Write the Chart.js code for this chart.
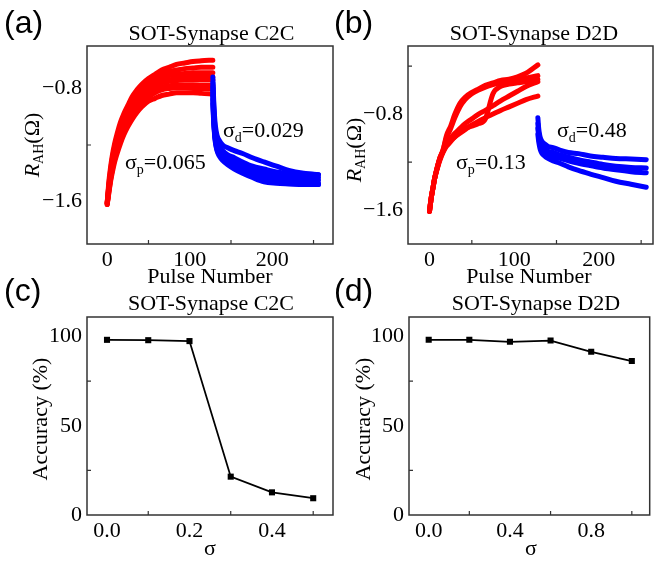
<!DOCTYPE html>
<html>
<head>
<meta charset="utf-8">
<script src="https://cdn.jsdelivr.net/npm/chart.js@4.4.1/dist/chart.umd.min.js"></script>
<style>
  html, body { margin: 0; padding: 0; background: #fff; }
  #wrap { position: relative; width: 654px; height: 561px; }
  #wrap canvas { position: absolute; left: 0; top: 0; }
</style>
</head>
<body>
<div id="wrap">
  <canvas id="ca" width="654" height="561"></canvas>
  <canvas id="cb" width="654" height="561"></canvas>
  <canvas id="cc" width="654" height="561"></canvas>
  <canvas id="cd" width="654" height="561"></canvas>
</div>
<script>
// ---------------- data ----------------
const potPulses = [0,2,4,6,9,12,16,20,25,30,36,42,50,58,66,75,84,94,104,114,128];
const depPulses = [128,129,130,131,133,136,140,146,154,164,176,190,205,220,238,256];

// (a) SOT-Synapse C2C, potentiation cycles
const c2cP1 = [-1.61,-1.46,-1.36,-1.28,-1.19,-1.12,-1.04,-0.98,-0.92,-0.86,-0.81,-0.77,-0.73,-0.70,-0.67,-0.65,-0.63,-0.62,-0.61,-0.605,-0.60];
const c2cP2 = [-1.61,-1.48,-1.38,-1.30,-1.21,-1.14,-1.06,-1.00,-0.94,-0.88,-0.83,-0.79,-0.75,-0.72,-0.70,-0.68,-0.67,-0.66,-0.655,-0.65,-0.65];
const c2cP3 = [-1.60,-1.49,-1.40,-1.32,-1.23,-1.16,-1.09,-1.03,-0.96,-0.91,-0.86,-0.82,-0.78,-0.75,-0.73,-0.71,-0.70,-0.695,-0.69,-0.69,-0.69];
const c2cP4 = [-1.62,-1.50,-1.41,-1.34,-1.25,-1.18,-1.10,-1.04,-0.98,-0.93,-0.88,-0.84,-0.80,-0.77,-0.75,-0.74,-0.73,-0.725,-0.72,-0.72,-0.72];
const c2cP5 = [-1.61,-1.51,-1.42,-1.35,-1.27,-1.20,-1.12,-1.06,-0.99,-0.94,-0.89,-0.85,-0.81,-0.78,-0.76,-0.75,-0.745,-0.74,-0.74,-0.74,-0.74];
const c2cP6 = [-1.62,-1.52,-1.44,-1.37,-1.29,-1.22,-1.15,-1.09,-1.03,-0.97,-0.92,-0.88,-0.84,-0.81,-0.79,-0.78,-0.775,-0.775,-0.775,-0.78,-0.78];
const c2cP7 = [-1.61,-1.53,-1.45,-1.38,-1.30,-1.24,-1.16,-1.10,-1.04,-0.99,-0.94,-0.90,-0.86,-0.83,-0.81,-0.80,-0.795,-0.795,-0.80,-0.80,-0.80];
const c2cP8 = [-1.62,-1.54,-1.46,-1.40,-1.32,-1.26,-1.19,-1.13,-1.07,-1.02,-0.97,-0.93,-0.89,-0.87,-0.85,-0.84,-0.83,-0.83,-0.83,-0.835,-0.84];
// (a) depression cycles
const c2cD1 = [-0.72,-0.88,-0.99,-1.06,-1.13,-1.17,-1.20,-1.22,-1.24,-1.26,-1.29,-1.32,-1.35,-1.38,-1.40,-1.41];
const c2cD2 = [-0.76,-0.92,-1.03,-1.10,-1.17,-1.21,-1.24,-1.27,-1.29,-1.32,-1.35,-1.37,-1.39,-1.40,-1.405,-1.41];
const c2cD3 = [-0.79,-0.95,-1.06,-1.13,-1.19,-1.23,-1.26,-1.29,-1.31,-1.34,-1.37,-1.39,-1.41,-1.42,-1.43,-1.43];
const c2cD4 = [-0.82,-0.97,-1.08,-1.15,-1.21,-1.25,-1.28,-1.31,-1.33,-1.36,-1.39,-1.41,-1.43,-1.44,-1.445,-1.45];
const c2cD5 = [-0.85,-1.00,-1.10,-1.16,-1.22,-1.26,-1.29,-1.32,-1.35,-1.38,-1.41,-1.43,-1.45,-1.46,-1.465,-1.47];
const c2cD6 = [-0.88,-1.02,-1.11,-1.17,-1.23,-1.27,-1.30,-1.33,-1.36,-1.39,-1.42,-1.45,-1.46,-1.47,-1.475,-1.48];
const c2cD7 = [-0.91,-1.04,-1.12,-1.18,-1.24,-1.28,-1.31,-1.34,-1.37,-1.40,-1.43,-1.46,-1.47,-1.475,-1.48,-1.48];

// (b) SOT-Synapse D2D, potentiation devices
const d2dP1 = [-1.61,-1.50,-1.42,-1.34,-1.25,-1.17,-1.10,-0.98,-0.90,-0.80,-0.71,-0.66,-0.62,-0.59,-0.56,-0.54,-0.52,-0.51,-0.49,-0.46,-0.39];
const d2dP2 = [-1.61,-1.50,-1.42,-1.34,-1.25,-1.17,-1.10,-1.00,-0.92,-0.83,-0.74,-0.68,-0.63,-0.60,-0.575,-0.555,-0.54,-0.525,-0.51,-0.50,-0.48];
const d2dP3 = [-1.61,-1.50,-1.42,-1.34,-1.25,-1.18,-1.11,-1.06,-1.02,-0.99,-0.95,-0.92,-0.90,-0.88,-0.84,-0.63,-0.57,-0.55,-0.54,-0.53,-0.51];
const d2dP4 = [-1.61,-1.50,-1.42,-1.34,-1.25,-1.18,-1.11,-1.04,-1.00,-0.96,-0.92,-0.88,-0.84,-0.80,-0.77,-0.73,-0.69,-0.65,-0.61,-0.57,-0.53];
const d2dP5 = [-1.61,-1.50,-1.42,-1.34,-1.26,-1.19,-1.12,-1.07,-1.03,-0.99,-0.96,-0.93,-0.89,-0.86,-0.83,-0.80,-0.77,-0.74,-0.71,-0.68,-0.65];
// (b) depression devices
const d2dD1 = [-0.83,-0.92,-0.97,-1.00,-1.03,-1.05,-1.07,-1.08,-1.10,-1.12,-1.13,-1.15,-1.16,-1.17,-1.175,-1.18];
const d2dD2 = [-0.88,-0.96,-1.01,-1.04,-1.07,-1.09,-1.11,-1.12,-1.14,-1.16,-1.18,-1.20,-1.22,-1.235,-1.245,-1.25];
const d2dD3 = [-0.92,-0.99,-1.04,-1.07,-1.10,-1.12,-1.14,-1.155,-1.17,-1.19,-1.21,-1.23,-1.25,-1.265,-1.28,-1.29];
const d2dD4 = [-0.97,-1.03,-1.07,-1.10,-1.13,-1.15,-1.17,-1.19,-1.21,-1.24,-1.27,-1.30,-1.33,-1.36,-1.385,-1.41];

// (c), (d) accuracy vs sigma
const sigmaC2C = [0.0, 0.1, 0.2, 0.3, 0.4, 0.5];
const accC2C   = [98.2, 98.0, 97.5, 21.5, 12.7, 9.4];
const sigmaD2D = [0.0, 0.2, 0.4, 0.6, 0.8, 1.0];
const accD2D   = [98.2, 98.2, 97.1, 97.8, 91.5, 86.3];

// ticks (empty label = minor tick)
const pulseTicksA  = [0, 50, 100, 150, 200, 250];
const pulseLabelsA = ['0', '', '100', '', '200', ''];
const rTicksA  = [-1.6, -1.2, -0.8];
const rLabelsA = ['\u22121.6', '', '\u22120.8'];
const pulseTicksB  = [0, 50, 100, 150, 200, 250];
const pulseLabelsB = ['0', '', '100', '', '200', ''];
const rTicksB  = [-1.6, -1.2, -0.8, -0.4];
const rLabelsB = ['\u22121.6', '', '\u22120.8', ''];
const sigTicksC  = [0.0, 0.1, 0.2, 0.3, 0.4, 0.5];
const sigLabelsC = ['0.0', '', '0.2', '', '0.4', ''];
const sigTicksD  = [0.0, 0.2, 0.4, 0.6, 0.8, 1.0];
const sigLabelsD = ['0.0', '', '0.4', '', '0.8', ''];
const accTicks  = [0, 25, 50, 75, 100];
const accLabels = ['0', '', '50', '', '100'];

// ---------------- helpers ----------------
const SERIF = "'Liberation Serif', 'Times New Roman', serif";
const SANS = "'Liberation Sans', Arial, sans-serif";
const RED = 'rgb(255,0,0)';
const BLUE = 'rgb(0,0,255)';

function xy(xs, ys) { return xs.map((x, i) => ({ x: x, y: ys[i] })); }

function curveSet(xs, list, color) {
  return list.map(ys => ({
    data: xy(xs, ys), showLine: true, borderColor: color, backgroundColor: color,
    borderWidth: 5, pointRadius: 0, cubicInterpolationMode: 'monotone',
    borderCapStyle: 'round', borderJoinStyle: 'round'
  }));
}

function drawRich(ctx, segs, x, y, align, rotate) {
  ctx.save();
  ctx.translate(x, y);
  if (rotate) ctx.rotate(-Math.PI / 2);
  let w = 0;
  segs.forEach(s => { ctx.font = s.font; s.w = ctx.measureText(s.t).width; w += s.w; });
  let cx = align === 'center' ? -w / 2 : 0;
  ctx.fillStyle = '#000';
  ctx.textBaseline = 'alphabetic';
  ctx.textAlign = 'left';
  segs.forEach(s => { ctx.font = s.font; ctx.fillText(s.t, cx, s.dy || 0); cx += s.w; });
  ctx.restore();
}

const decorPlugin = {
  id: 'decor',
  afterDraw(chart, args, o) {
    const ctx = chart.ctx, a = chart.chartArea;
    const xs = chart.scales.x, ys = chart.scales.y;
    ctx.save();
    ctx.strokeStyle = '#333';
    ctx.lineWidth = 1.5;
    ctx.strokeRect(a.left, a.top, a.right - a.left, a.bottom - a.top);
    ctx.lineWidth = 1.2;
    ctx.beginPath();
    o.xTicks.forEach((v, i) => {
      if (o.xLabels[i] === '') { const p = xs.getPixelForValue(v); ctx.moveTo(p, a.bottom); ctx.lineTo(p, a.bottom - 4); }
    });
    o.yTicks.forEach((v, i) => {
      if (o.yLabels[i] === '') { const p = ys.getPixelForValue(v); ctx.moveTo(a.left, p); ctx.lineTo(a.left + 4, p); }
    });
    ctx.stroke();
    ctx.restore();
    o.texts.forEach(t => drawRich(ctx, t.segs, t.x, t.y, t.align, t.rotate));
  }
};

function makeChart(id, datasets, sc, pad, decor) {
  return new Chart(document.getElementById(id), {
    type: 'scatter',
    data: { datasets: datasets },
    options: {
      responsive: false, animation: false, devicePixelRatio: 1,
      layout: { padding: pad },
      plugins: { legend: { display: false }, tooltip: { enabled: false }, decor: decor },
      events: [],
      scales: {
        x: {
          type: 'linear', min: sc.xMin, max: sc.xMax,
          grid: { display: false }, border: { display: false },
          afterFit: s => { s.height = 40; },
          afterBuildTicks: s => { s.ticks = sc.xTicks.map(v => ({ value: v })); },
          ticks: { autoSkip: false, maxRotation: 0, padding: -5, color: '#000',
                   font: { family: SERIF, size: 22 }, callback: (v, i) => sc.xLabels[i] }
        },
        y: {
          type: 'linear', min: sc.yMin, max: sc.yMax,
          grid: { display: false }, border: { display: false },
          afterFit: s => { s.width = 60; },
          afterBuildTicks: s => { s.ticks = sc.yTicks.map(v => ({ value: v })); },
          ticks: { autoSkip: false, padding: -3, color: '#000',
                   font: { family: SERIF, size: 22 }, callback: (v, i) => sc.yLabels[i] }
        }
      }
    },
    plugins: [decorPlugin]
  });
}

const F22 = '22px ' + SERIF;
const F22I = 'italic 22px ' + SERIF;
const F14 = '14px ' + SERIF;
const FLAB = '32px ' + SANS;

function sigmaText(sub, val, x, y) {
  return { segs: [{ t: '\u03c3', font: F22 }, { t: sub, font: F14, dy: 5 }, { t: '=' + val, font: F22 }], x: x, y: y, align: 'left' };
}
function rahText(baseX, midY) {
  return { segs: [{ t: 'R', font: F22I }, { t: 'AH', font: F14, dy: 4 }, { t: '(\u03a9)', font: F22 }], x: baseX, y: midY, align: 'center', rotate: true };
}
function accText(baseX, midY) {
  return { segs: [{ t: 'Accuracy (%)', font: F22 }], x: baseX, y: midY, align: 'center', rotate: true };
}
function plain(t, font, x, y, align) { return { segs: [{ t: t, font: font }], x: x, y: y, align: align }; }

// ---------------- panel (a) ----------------
const dsA = curveSet(depPulses, [c2cD1, c2cD2, c2cD3, c2cD4, c2cD5, c2cD6, c2cD7], BLUE)
  .concat(curveSet(potPulses, [c2cP1, c2cP2, c2cP3, c2cP4, c2cP5, c2cP6, c2cP7, c2cP8], RED));
makeChart('ca', dsA,
  { xMin: -24.5, xMax: 273.6, yMin: -1.9, yMax: -0.5, xTicks: pulseTicksA, xLabels: pulseLabelsA, yTicks: rTicksA, yLabels: rLabelsA },
  { left: 27, right: 321, top: 46, bottom: 277 },
  { xTicks: pulseTicksA, xLabels: pulseLabelsA, yTicks: rTicksA, yLabels: rLabelsA, texts: [
    plain('(a)', FLAB, 4, 33, 'left'),
    plain('SOT-Synapse C2C', F22, 211.5, 39.5, 'center'),
    plain('Pulse Number', F22, 210, 283, 'center'),
    rahText(38.5, 145),
    sigmaText('p', '0.065', 125, 169),
    sigmaText('d', '0.029', 223, 137)
  ] });

// ---------------- panel (b) ----------------
const dsB = curveSet(depPulses, [d2dD1, d2dD2, d2dD3, d2dD4], BLUE)
  .concat(curveSet(potPulses, [d2dP1, d2dP2, d2dP3, d2dP4, d2dP5], RED));
makeChart('cb', dsB,
  { xMin: -25.4, xMax: 264, yMin: -1.883, yMax: -0.233, xTicks: pulseTicksB, xLabels: pulseLabelsB, yTicks: rTicksB, yLabels: rLabelsB },
  { left: 348, right: 1, top: 46, bottom: 277 },
  { xTicks: pulseTicksB, xLabels: pulseLabelsB, yTicks: rTicksB, yLabels: rLabelsB, texts: [
    plain('(b)', FLAB, 334, 33, 'left'),
    plain('SOT-Synapse D2D', F22, 534, 39.5, 'center'),
    plain('Pulse Number', F22, 529, 283, 'center'),
    rahText(361, 150),
    sigmaText('p', '0.13', 456, 169),
    sigmaText('d', '0.48', 557, 136.5)
  ] });

// ---------------- panels (c), (d) ----------------
function accSet(xs, ys) {
  return [{ data: xy(xs, ys), showLine: true, borderColor: '#000', backgroundColor: '#000',
            borderWidth: 1.8, pointStyle: 'rect', pointRadius: 4.3, pointBackgroundColor: '#000', pointBorderWidth: 0 }];
}

makeChart('cc', accSet(sigmaC2C, accC2C),
  { xMin: -0.0485, xMax: 0.548, yMin: 0, yMax: 111, xTicks: sigTicksC, xLabels: sigLabelsC, yTicks: accTicks, yLabels: accLabels },
  { left: 27, right: 321, top: 317, bottom: 6 },
  { xTicks: sigTicksC, xLabels: sigLabelsC, yTicks: accTicks, yLabels: accLabels, texts: [
    plain('(c)', FLAB, 4, 301, 'left'),
    plain('SOT-Synapse C2C', F22, 211, 310, 'center'),
    plain('\u03c3', F22, 210, 555, 'center'),
    accText(46.5, 419)
  ] });

makeChart('cd', accSet(sigmaD2D, accD2D),
  { xMin: -0.097, xMax: 1.088, yMin: 0, yMax: 111, xTicks: sigTicksD, xLabels: sigLabelsD, yTicks: accTicks, yLabels: accLabels },
  { left: 349, right: 1, top: 317, bottom: 6 },
  { xTicks: sigTicksD, xLabels: sigLabelsD, yTicks: accTicks, yLabels: accLabels, texts: [
    plain('(d)', FLAB, 334, 301, 'left'),
    plain('SOT-Synapse D2D', F22, 536, 310, 'center'),
    plain('\u03c3', F22, 531, 555, 'center'),
    accText(370, 419)
  ] });
</script>
</body>
</html>
